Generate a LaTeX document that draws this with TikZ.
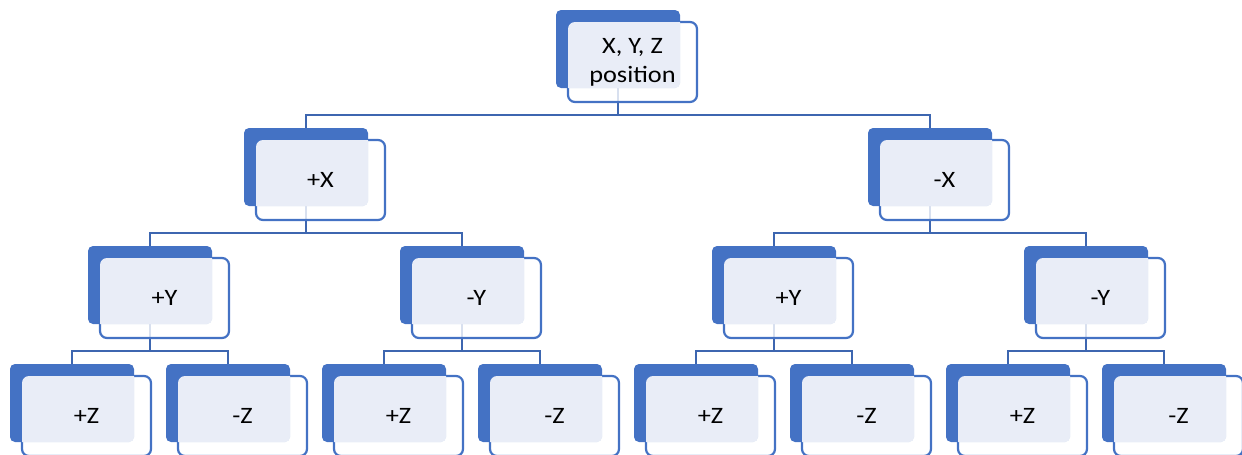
\documentclass[tikz,border=0pt]{standalone}
\usepackage{fontspec}
\newfontfamily\boxfont{Carlito}[FakeStretch=1.12]
\pgfdeclarelayer{bg}
\pgfsetlayers{bg,main}
\definecolor{accent}{HTML}{4472C4}
\definecolor{connblue}{HTML}{3D66B0}
\definecolor{paleblue}{HTML}{E9EDF7}
\tikzset{
  backbox/.style={rectangle, anchor=north west, minimum width=124pt, minimum height=78pt,
    inner sep=0pt, outer sep=0pt, rounded corners=5pt, fill=accent},
  frontbox/.style={rectangle, anchor=north west, minimum width=129pt, minimum height=80pt,
    inner sep=0pt, outer sep=0pt, rounded corners=7pt, draw=accent, line width=2.2pt,
    fill=white, fill opacity=0.8},
  boxtext/.style={align=center, text=black, inner sep=0pt,
    font=\boxfont\fontsize{23.5}{29}\selectfont},
  conn/.style={draw=connblue, line width=2.2pt}
}
% one hierarchy entry: name, x, y (top-left of the solid box), text
\newcommand\tierbox[4]{%
  \node[backbox] (#1) at (#2,#3) {};
  \node[frontbox] (#1f) at (#2+12,#3+12) {};
  \begin{scope}
    \clip[rounded corners=5pt] (#1.north west) rectangle (#1.south east);
    \fill[paleblue, rounded corners=7pt] (#1f.north west) rectangle (#1f.south east);
  \end{scope}
  \node[boxtext] (#1t) at (#1f.center) {#4};
}
\begin{document}
\begin{tikzpicture}[x=1pt, y=-1pt]
\useasboundingbox (0,0) rectangle (1242,455);

% level 0
\tierbox{root}{556}{10}{X, Y, Z\\position}
% level 1
\tierbox{xa}{244}{128}{+X}
\tierbox{xb}{868}{128}{-X}
% level 2
\tierbox{ya}{88}{246}{+Y}
\tierbox{yb}{400}{246}{-Y}
\tierbox{yc}{712}{246}{+Y}
\tierbox{yd}{1024}{246}{-Y}
% level 3
\tierbox{za}{10}{364}{+Z}
\tierbox{zb}{166}{364}{-Z}
\tierbox{zc}{322}{364}{+Z}
\tierbox{zd}{478}{364}{-Z}
\tierbox{ze}{634}{364}{+Z}
\tierbox{zf}{790}{364}{-Z}
\tierbox{zg}{946}{364}{+Z}
\tierbox{zh}{1102}{364}{-Z}

% elbow connectors behind the boxes
\begin{pgfonlayer}{bg}
  \foreach \p/\c in {root/xa, root/xb, xa/ya, xa/yb, xb/yc, xb/yd,
                     ya/za, ya/zb, yb/zc, yb/zd, yc/ze, yc/zf, yd/zg, yd/zh}
    \draw[conn] (\p.south) -- ++(0,27) -| (\c.north);
\end{pgfonlayer}
\end{tikzpicture}
\end{document}
